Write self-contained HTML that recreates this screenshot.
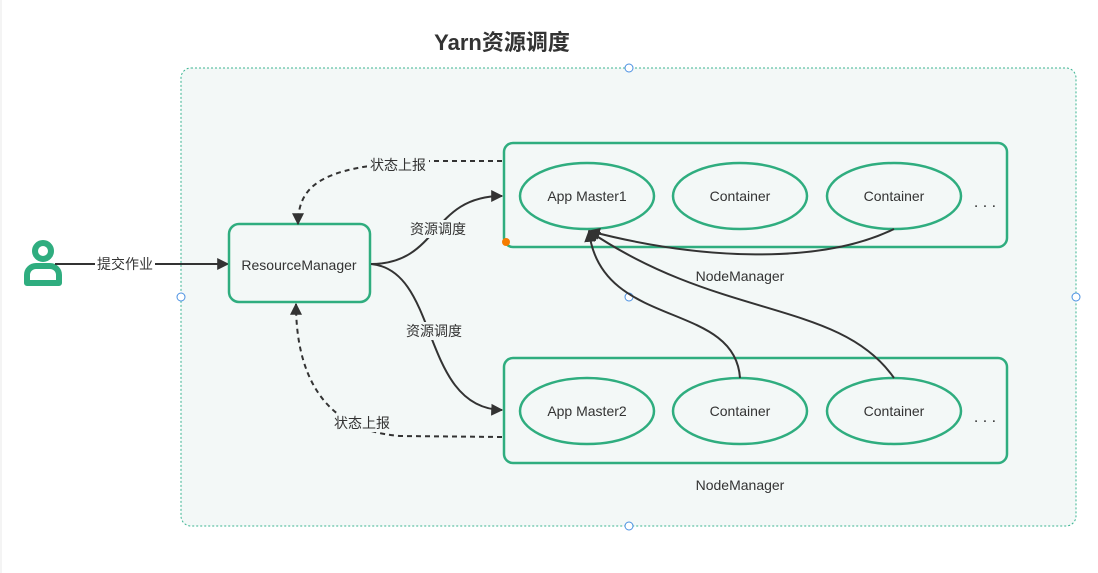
<!DOCTYPE html>
<html><head><meta charset="utf-8"><style>
html,body{margin:0;padding:0;background:#fff;width:1098px;height:573px;overflow:hidden}
text{font-family:"Liberation Sans","Noto Sans CJK SC",sans-serif;fill:#333}
</style></head><body>
<svg width="1098" height="573" viewBox="0 0 1098 573" xmlns="http://www.w3.org/2000/svg">
<defs>
<marker id="ar" viewBox="0 0 10 10" refX="9" refY="5" markerWidth="12" markerHeight="12" orient="auto-start-reverse" markerUnits="userSpaceOnUse"><path d="M0,0 L10,5 L0,10 z" fill="#333"/></marker>
</defs>
<rect x="0.5" y="0" width="1" height="573" fill="#e8e8e8"/>
<text x="502" y="50" font-size="22" font-weight="bold" text-anchor="middle" fill="#333">Yarn资源调度</text>
<rect x="181" y="68" width="895" height="458" rx="10" fill="#f3f8f7" stroke="#3bb592" stroke-width="1" stroke-dasharray="2,2"/>
<g fill="#fff" stroke="#4a90e2" stroke-width="1">
<circle cx="629" cy="68" r="4"/><circle cx="629" cy="526" r="4"/><circle cx="181" cy="297" r="4"/><circle cx="1076" cy="297" r="4"/><circle cx="629" cy="297" r="4"/>
</g>
<g fill="none" stroke="#2fad7f" stroke-width="6">
<circle cx="43" cy="251" r="8"/>
<path d="M27,283 v-8 a9,9 0 0 1 9,-9 h14 a9,9 0 0 1 9,9 v8 z" stroke-linejoin="round"/>
</g>
<line x1="55" y1="264" x2="228" y2="264" stroke="#333" stroke-width="2" marker-end="url(#ar)"/>
<rect x="95" y="254" width="60" height="20" fill="#fff"/>
<text x="125" y="269" font-size="14" text-anchor="middle">提交作业</text>
<rect x="229" y="224" width="141" height="78" rx="10" fill="#f3f8f7" stroke="#2fad7f" stroke-width="2.5"/>
<text x="299" y="270" font-size="14" text-anchor="middle">ResourceManager</text>
<rect x="504" y="143" width="503" height="104" rx="9" fill="#f3f8f7" stroke="#2fad7f" stroke-width="2.5"/>
<rect x="504" y="358" width="503" height="105" rx="9" fill="#f3f8f7" stroke="#2fad7f" stroke-width="2.5"/>
<circle cx="506" cy="242" r="4" fill="#f57c00"/>
<g fill="#f3f8f7" stroke="#2fad7f" stroke-width="2.5">
<ellipse cx="587" cy="196" rx="67" ry="33"/><ellipse cx="740" cy="196" rx="67" ry="33"/><ellipse cx="894" cy="196" rx="67" ry="33"/>
<ellipse cx="587" cy="411" rx="67" ry="33"/><ellipse cx="740" cy="411" rx="67" ry="33"/><ellipse cx="894" cy="411" rx="67" ry="33"/>
</g>
<g font-size="14" text-anchor="middle">
<text x="587" y="201">App Master1</text><text x="740" y="201">Container</text><text x="894" y="201">Container</text>
<text x="587" y="416">App Master2</text><text x="740" y="416">Container</text><text x="894" y="416">Container</text>
<text x="740" y="281">NodeManager</text><text x="740" y="490">NodeManager</text>
<text x="985" y="207" font-size="16">. . .</text><text x="985" y="422" font-size="16">. . .</text>
</g>
<g fill="none" stroke="#333" stroke-width="2">
<path d="M371,264 C440,264 430,196 502,196" marker-end="url(#ar)"/>
<path d="M371,264 C440,270 420,408 502,410" marker-end="url(#ar)"/>
<path d="M894,229 C820,265 700,260 589,231" marker-end="url(#ar)"/>
<path d="M740,378 C735,300 600,330 589,231" marker-end="url(#ar)"/>
<path d="M894,378 C840,300 720,320 589,231" marker-end="url(#ar)"/>
<path d="M502,161 L430,161 C330,165 298,180 298,224" stroke-dasharray="5,4" marker-end="url(#ar)"/>
<path d="M502,437 L400,436 C320,430 296,370 296,304" stroke-dasharray="5,4" marker-end="url(#ar)"/>
</g>
<g font-size="14" text-anchor="middle">
<rect x="367" y="155" width="62" height="18" fill="#f3f8f7"/>
<text x="398" y="170">状态上报</text>
<rect x="407" y="220" width="62" height="18" fill="#f3f8f7"/>
<text x="438" y="234">资源调度</text>
<rect x="403" y="322" width="62" height="18" fill="#f3f8f7"/>
<text x="434" y="336">资源调度</text>
<rect x="331" y="414" width="62" height="18" fill="#f3f8f7"/>
<text x="362" y="428">状态上报</text>
</g>
</svg>
</body></html>
